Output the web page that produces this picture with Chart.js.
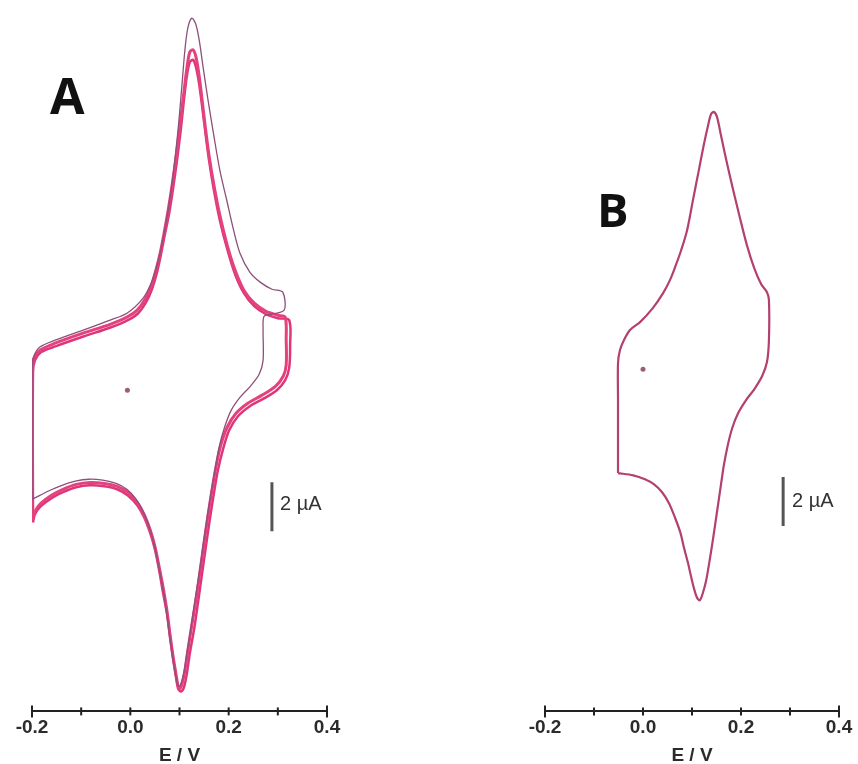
<!DOCTYPE html>
<html>
<head>
<meta charset="utf-8">
<script src="https://cdn.jsdelivr.net/npm/chart.js@4.4.1/dist/chart.umd.min.js"></script>
<style>
  html, body { margin: 0; padding: 0; background: #fff; overflow: hidden; }
  #wrap { position: relative; width: 858px; height: 764px; overflow: hidden; }
  canvas { position: absolute; top: 0; }
  .panel { position: absolute; font-family: "Open Sans", "Liberation Sans", sans-serif; font-weight: 700; color: #111; }
  .bar { position: absolute; font-family: "Liberation Sans", Arial, sans-serif; font-size: 20px; line-height: 20px; color: #333; }
</style>
</head>
<body>
<div id="wrap">
  <canvas id="cvA" width="430" height="780" style="left:0"></canvas>
  <canvas id="cvB" width="428" height="780" style="left:430px"></canvas>
  <div class="panel" style="left:50px; top:70px; font-size:50px; line-height:50px;">A</div>
  <div class="panel" style="left:597px; top:186px; font-size:47px; line-height:47px;">B</div>
  <div class="bar" style="left:280px; top:493px;">2 µA</div>
  <div class="bar" style="left:792px; top:490px;">2 µA</div>
</div>
<script>
// Panel A - first scan (thin trace)
var eA1 = [-0.200, -0.200, -0.196, -0.184, -0.153, -0.096, -0.041, -0.007, 0.026, 0.044, 0.056, 0.066, 0.077, 0.087, 0.097, 0.105, 0.111, 0.117, 0.125, 0.133, 0.140, 0.148, 0.158, 0.169, 0.182, 0.196, 0.210, 0.223, 0.243, 0.264, 0.288, 0.310, 0.313, 0.288, 0.272, 0.270, 0.270, 0.262, 0.244, 0.223, 0.205, 0.191, 0.180, 0.172, 0.164, 0.156, 0.148, 0.140, 0.131, 0.123, 0.115, 0.109, 0.103, 0.099, 0.095, 0.091, 0.085, 0.079, 0.073, 0.065, 0.056, 0.048, 0.038, 0.026, 0.012, -0.007, -0.029, -0.056, -0.084, -0.112, -0.139, -0.163, -0.184, -0.200];
var iA1 = [-4.45, 0.82, 1.39, 1.76, 2.04, 2.45, 2.86, 3.14, 3.76, 4.45, 5.22, 6.12, 7.35, 8.78, 10.61, 12.45, 13.88, 14.78, 15.18, 14.94, 14.29, 13.18, 11.84, 10.49, 8.98, 7.76, 6.53, 5.59, 4.82, 4.41, 4.12, 4.00, 3.27, 3.10, 3.02, 2.45, 1.22, 0.65, 0.16, -0.29, -0.82, -1.55, -2.37, -3.27, -4.20, -5.22, -6.33, -7.47, -8.61, -9.71, -10.73, -11.51, -11.96, -12.08, -11.92, -11.47, -10.73, -9.88, -8.94, -7.96, -7.02, -6.24, -5.55, -4.94, -4.45, -4.04, -3.80, -3.67, -3.63, -3.71, -3.88, -4.08, -4.29, -4.45];

// Panel A - later scans (thick traces)
var eA2 = [-0.200, -0.200, -0.196, -0.184, -0.153, -0.096, -0.041, -0.007, 0.014, 0.030, 0.042, 0.052, 0.061, 0.069, 0.077, 0.085, 0.093, 0.101, 0.109, 0.115, 0.121, 0.128, 0.134, 0.140, 0.146, 0.152, 0.160, 0.170, 0.182, 0.197, 0.213, 0.231, 0.252, 0.276, 0.300, 0.315, 0.317, 0.317, 0.311, 0.295, 0.268, 0.239, 0.215, 0.197, 0.184, 0.174, 0.166, 0.158, 0.150, 0.142, 0.134, 0.125, 0.117, 0.111, 0.105, 0.101, 0.097, 0.093, 0.087, 0.081, 0.075, 0.067, 0.058, 0.050, 0.040, 0.028, 0.014, -0.005, -0.027, -0.053, -0.082, -0.110, -0.137, -0.161, -0.182, -0.194, -0.200];
var iA2 = [-5.31, 0.73, 1.31, 1.63, 1.92, 2.33, 2.69, 2.98, 3.27, 3.71, 4.24, 4.90, 5.63, 6.45, 7.35, 8.37, 9.51, 10.82, 12.16, 13.14, 13.80, 13.88, 13.55, 12.82, 11.84, 10.82, 9.59, 8.37, 7.14, 5.92, 4.90, 4.08, 3.55, 3.22, 3.06, 2.98, 2.04, 1.02, 0.57, 0.16, -0.20, -0.53, -0.94, -1.51, -2.24, -3.14, -4.08, -5.10, -6.20, -7.35, -8.49, -9.59, -10.61, -11.43, -12.00, -12.16, -12.04, -11.59, -10.86, -10.00, -9.06, -8.08, -7.14, -6.37, -5.67, -5.06, -4.57, -4.16, -3.92, -3.80, -3.76, -3.84, -4.04, -4.29, -4.61, -4.94, -5.31];

var eA3 = [-0.198, -0.198, -0.194, -0.182, -0.151, -0.094, -0.039, -0.005, 0.016, 0.032, 0.044, 0.054, 0.062, 0.070, 0.079, 0.087, 0.095, 0.103, 0.109, 0.115, 0.121, 0.128, 0.134, 0.140, 0.146, 0.152, 0.160, 0.170, 0.182, 0.197, 0.213, 0.231, 0.252, 0.276, 0.300, 0.323, 0.325, 0.323, 0.315, 0.298, 0.272, 0.243, 0.219, 0.201, 0.189, 0.178, 0.170, 0.162, 0.154, 0.146, 0.138, 0.130, 0.121, 0.115, 0.109, 0.103, 0.097, 0.093, 0.087, 0.081, 0.075, 0.066, 0.058, 0.050, 0.040, 0.028, 0.014, -0.005, -0.027, -0.053, -0.082, -0.110, -0.137, -0.161, -0.182, -0.194, -0.198];
var iA3 = [-5.39, 0.73, 1.22, 1.55, 1.80, 2.20, 2.57, 2.86, 3.14, 3.59, 4.12, 4.78, 5.51, 6.33, 7.22, 8.24, 9.39, 10.69, 11.84, 12.82, 13.39, 13.47, 13.14, 12.49, 11.59, 10.61, 9.39, 8.16, 6.94, 5.76, 4.73, 3.96, 3.43, 3.10, 2.94, 2.86, 1.84, 0.90, 0.41, 0.00, -0.33, -0.65, -1.06, -1.63, -2.37, -3.27, -4.20, -5.22, -6.33, -7.47, -8.61, -9.71, -10.73, -11.55, -12.12, -12.29, -12.16, -11.71, -10.98, -10.12, -9.18, -8.20, -7.27, -6.49, -5.80, -5.18, -4.69, -4.29, -4.04, -3.92, -3.88, -3.96, -4.16, -4.41, -4.73, -5.06, -5.39];

// Panel B - single scan
var eB = [-0.051, -0.051, -0.051, -0.047, -0.039, -0.027, -0.006, 0.020, 0.041, 0.055, 0.067, 0.078, 0.090, 0.102, 0.114, 0.124, 0.133, 0.139, 0.145, 0.151, 0.159, 0.169, 0.184, 0.198, 0.212, 0.227, 0.241, 0.253, 0.257, 0.257, 0.253, 0.243, 0.227, 0.210, 0.194, 0.182, 0.173, 0.165, 0.159, 0.153, 0.147, 0.141, 0.135, 0.129, 0.122, 0.116, 0.110, 0.104, 0.098, 0.092, 0.084, 0.076, 0.065, 0.053, 0.039, 0.022, 0.004, -0.020, -0.051];
var iB = [-4.24, -1.27, 0.24, 0.78, 1.18, 1.59, 1.92, 2.49, 3.10, 3.63, 4.24, 4.86, 5.67, 6.90, 8.12, 9.14, 9.96, 10.41, 10.49, 10.29, 9.55, 8.61, 7.31, 6.16, 5.06, 4.12, 3.47, 3.14, 2.82, 1.18, 0.29, -0.29, -0.82, -1.27, -1.80, -2.41, -3.10, -3.92, -4.73, -5.55, -6.37, -7.18, -7.92, -8.61, -9.14, -9.43, -9.31, -8.94, -8.45, -7.92, -7.31, -6.65, -6.04, -5.47, -5.02, -4.69, -4.49, -4.33, -4.24];

// x axis ticks (V) and current scale bars (µA)
var xTicks = [-0.2, -0.1, 0.0, 0.1, 0.2, 0.3, 0.4];
var barA = { e: 0.288, from: -3.75, to: -5.75 };
var barB = { e: 0.286, from: -4.4, to: -6.4 };
var originA = { e: -0.006, i: 0 };
var originB = { e: 0.0, i: 0 };

function pts(e, i) {
    return e.map(function(v, k) { return { x: v, y: i[k] }; });
}

// axis line with short ticks crossing it
var crossTicks = {
    id: 'crossTicks',
    afterDraw: function(chart) {
        var sc = chart.scales.x;
        var ctx = chart.ctx;
        ctx.save();
        ctx.strokeStyle = '#222';
        ctx.lineWidth = 2;
        xTicks.forEach(function(t, k) {
            var px = sc.getPixelForValue(t);
            var h = (k === 0 || k === xTicks.length - 1) ? 6 : 4;
            ctx.beginPath();
            ctx.moveTo(px, sc.top - h);
            ctx.lineTo(px, sc.top + h);
            ctx.stroke();
        });
        ctx.restore();
    }
};

function makeChart(id, datasets, yMin, yMax, padLeft, padRight) {
    return new Chart(document.getElementById(id), {
        type: 'scatter',
        data: { datasets: datasets },
        options: {
            responsive: false,
            animation: false,
            layout: { padding: { left: padLeft, right: padRight, top: 10, bottom: 13 } },
            plugins: { legend: { display: false }, tooltip: { enabled: false } },
            scales: {
                x: {
                    type: 'linear',
                    min: -0.2,
                    max: 0.4,
                    afterBuildTicks: function(scale) {
                        scale.ticks = xTicks.map(function(v) { return { value: v }; });
                    },
                    ticks: {
                        autoSkip: false,
                        maxRotation: 0,
                        padding: 5,
                        color: '#2b2b2b',
                        font: { family: 'Liberation Sans, Arial, sans-serif', size: 19, weight: 'bold' },
                        callback: function(v) {
                            var r = Math.round(v * 10);
                            return r % 2 === 0 ? (r / 10).toFixed(1) : '';
                        }
                    },
                    grid: { display: false, drawTicks: false },
                    border: { display: true, color: '#222', width: 2 },
                    title: {
                        display: true,
                        text: 'E / V',
                        color: '#2b2b2b',
                        padding: { top: 0, bottom: 0 },
                        font: { family: 'Liberation Sans, Arial, sans-serif', size: 19, weight: 'bold' }
                    }
                },
                y: { type: 'linear', display: false, min: yMin, max: yMax }
            }
        },
        plugins: [crossTicks]
    });
}

function line(data, color, width) {
    return { data: data, showLine: true, borderColor: color, borderWidth: width, pointRadius: 0, tension: 0.3, fill: false, borderJoinStyle: 'round' };
}

function dot(o) {
    return { data: [{ x: o.e, y: o.i }], showLine: false, pointRadius: 2.5, pointBackgroundColor: '#9a5f72', pointBorderWidth: 0 };
}

function bar(b) {
    return { data: [{ x: b.e, y: b.from }, { x: b.e, y: b.to }], showLine: true, borderColor: '#555', borderWidth: 3, pointRadius: 0 };
}

makeChart('cvA', [
    line(pts(eA1, iA1), '#8d4f7c', 1.3),
    line(pts(eA2, iA2), '#e4427c', 3),
    line(pts(eA3, iA3), '#e0357a', 2.5),
    dot(originA),
    bar(barA)
], -13.1, 15.51, 32, 103);

makeChart('cvB', [
    line(pts(eB, iB), '#b3406f', 2.2),
    dot(originB),
    bar(barB)
], -13.96, 14.65, 115, 19);
</script>
</body>
</html>
